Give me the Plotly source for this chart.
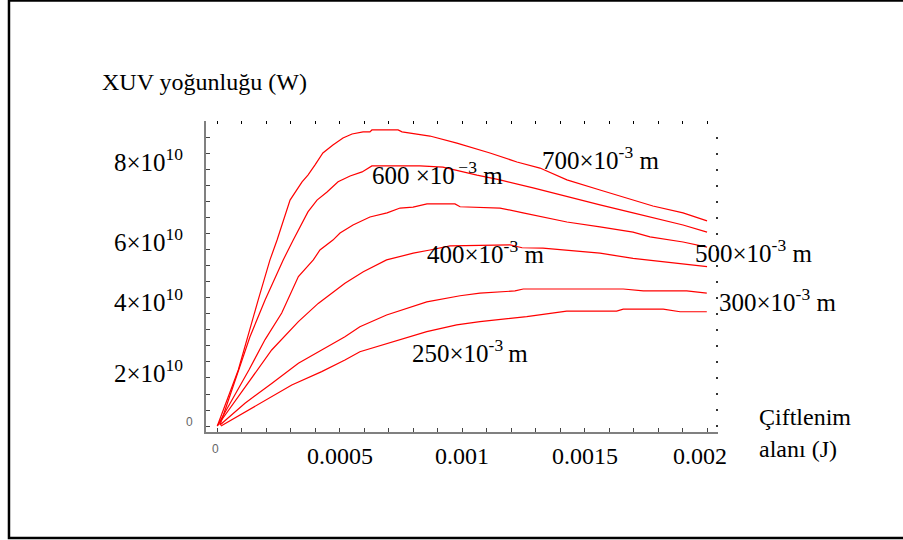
import plotly.graph_objects as go

# Coupling area (J) and XUV intensity (units of 1e10 W) for each wavelength
x_700 = [0, 0.0000857, 0.000167, 0.000215, 0.000244, 0.000297, 0.000346, 0.000370, 0.000399,
         0.000431, 0.000472, 0.000513, 0.000550, 0.000595, 0.000623, 0.000631, 0.000738, 0.000754,
         0.000868, 0.000978, 0.001113, 0.001223, 0.001317, 0.001427, 0.001562, 0.001697, 0.001778,
         0.001901, 0.001999]
y_700 = [0, 1.75, 3.94, 5.19, 5.81, 7.06, 7.63, 7.84, 8.16,
         8.53, 8.78, 9.00, 9.125, 9.19, 9.19, 9.25, 9.25, 9.19,
         9.06, 8.84, 8.53, 8.25, 8.06, 7.69, 7.375, 7.06, 6.875,
         6.66, 6.41]

x_600 = [0.000011, 0.000133, 0.000195, 0.000269, 0.000310, 0.000338, 0.000370, 0.000407, 0.000448,
         0.000493, 0.000542, 0.000591, 0.000631, 0.000827, 0.000921, 0.001060, 0.001154, 0.001289,
         0.001427, 0.001562, 0.001697, 0.001766, 0.001901, 0.001999]
y_600 = [0.03, 2.78, 3.94, 5.19, 5.81, 6.22, 6.69, 7.06, 7.31,
         7.63, 7.81, 7.94, 8.125, 8.125, 8.09, 7.84, 7.69, 7.44,
         7.16, 6.91, 6.66, 6.53, 6.28, 6.06]

x_500 = [0, 0.000129, 0.000195, 0.000263, 0.000331, 0.000392, 0.000419, 0.000472, 0.000501,
         0.000554, 0.000623, 0.000693, 0.000746, 0.000799, 0.000856, 0.000970, 0.000991, 0.001154,
         0.001248, 0.001329, 0.001427, 0.001562, 0.001697, 0.001766, 0.001901, 0.001999]
y_500 = [0, 1.75, 2.70, 3.53, 4.67, 5.19, 5.50, 5.81, 6.03,
         6.28, 6.53, 6.66, 6.81, 6.84, 6.94, 6.94, 6.85, 6.81,
         6.66, 6.53, 6.375, 6.22, 6.06, 5.91, 5.75, 5.59]

x_400 = [0, 0.000146, 0.000222, 0.000331, 0.000412, 0.000521, 0.000596, 0.000691, 0.000800,
         0.000868, 0.000950, 0.001195, 0.001244, 0.001329, 0.001562, 0.001697, 0.001836, 0.001999]
y_400 = [0, 1.54, 2.375, 3.26, 3.83, 4.46, 4.82, 5.19, 5.40,
         5.50, 5.63, 5.66, 5.57, 5.56, 5.40, 5.24, 5.12, 4.98]

x_300 = [0.000011, 0.000113, 0.000222, 0.000331, 0.000426, 0.000521, 0.000582, 0.000691, 0.000855,
         0.000991, 0.001072, 0.001215, 0.001249, 0.001657, 0.001739, 0.001916, 0.001998]
y_300 = [0.03, 0.71, 1.33, 1.96, 2.375, 2.79, 3.10, 3.47, 3.88,
         4.07, 4.15, 4.22, 4.28, 4.28, 4.22, 4.22, 4.15]

x_250 = [0.000015, 0.000195, 0.000304, 0.000426, 0.000521, 0.000582, 0.000691, 0.000855, 0.000977,
         0.001072, 0.001263, 0.001426, 0.001630, 0.001657, 0.001820, 0.001889, 0.001998]
y_250 = [0, 0.81, 1.28, 1.70, 2.06, 2.32, 2.58, 2.95, 3.16,
         3.26, 3.42, 3.59, 3.59, 3.65, 3.65, 3.57, 3.57]

SCALE = 1e10
x_tick_vals = [0.0005, 0.001, 0.0015, 0.002]
x_tick_text = ["0.0005", "0.001", "0.0015", "0.002"]
y_tick_vals = [8, 6, 4, 2]
y_tick_text = ["8×10<sup>10</sup>", "6×10<sup>10</sup>", "4×10<sup>10</sup>", "2×10<sup>10</sup>"]

series = [(x_700, y_700), (x_600, y_600), (x_500, y_500),
          (x_400, y_400), (x_300, y_300), (x_250, y_250)]

SERIF = "Liberation Serif, Times New Roman, serif"
X_RANGE = [-0.0000461, 0.0020437]
Y_RANGE = [-0.1875 * SCALE, 9.53 * SCALE]

fig = go.Figure()
for xs, ys in series:
    fig.add_trace(go.Scatter(x=xs, y=[v * SCALE for v in ys], mode="lines",
                             line=dict(color="#ff0000", width=1.2),
                             showlegend=False, hoverinfo="skip"))
# carrier for the mirrored top/right tick axes
fig.add_trace(go.Scatter(x=[None], y=[None], xaxis="x2", yaxis="y2",
                         showlegend=False, hoverinfo="skip"))

annotations = []
for v, t in zip(x_tick_vals, x_tick_text):
    annotations.append(dict(x=v, y=-0.0772, xref="x", yref="paper", text=t,
                            showarrow=False, xanchor="center", yanchor="middle",
                            xshift=-7 if v == 0.002 else 0,
                            font=dict(family=SERIF, size=24, color="black")))
y_shifts = {8: 10, 6: -6, 4: -2, 2: -9}
for v, t in zip(y_tick_vals, y_tick_text):
    annotations.append(dict(x=-0.041, y=v * SCALE, xref="paper", yref="y", text=t,
                            showarrow=False, xanchor="right", yanchor="middle",
                            yshift=y_shifts[v],
                            font=dict(family=SERIF, size=25, color="black")))
# origin labels
annotations.append(dict(x=0, y=-0.0547, xref="x", yref="paper", text="0", showarrow=False,
                        xanchor="center", yanchor="middle", xshift=-2,
                        font=dict(family="Liberation Sans, Arial", size=12, color="#666666")))
annotations.append(dict(x=-0.0322, y=0, xref="paper", yref="y", text="0", showarrow=False,
                        xanchor="center", yanchor="middle", yshift=4,
                        font=dict(family="Liberation Sans, Arial", size=12, color="#666666")))

# axis titles
annotations.append(dict(x=-0.207, y=1.1254, xref="paper", yref="paper",
                        text="XUV yoğunluğu (W)", showarrow=False,
                        xanchor="left", yanchor="middle",
                        font=dict(family=SERIF, size=24, color="black")))
annotations.append(dict(x=1.0762, y=0.0482, xref="paper", yref="paper",
                        text="Çiftlenim", showarrow=False,
                        xanchor="left", yanchor="middle",
                        font=dict(family=SERIF, size=24, color="black")))
annotations.append(dict(x=1.0762, y=-0.0547, xref="paper", yref="paper",
                        text="alanı (J)", showarrow=False,
                        xanchor="left", yanchor="middle",
                        font=dict(family=SERIF, size=24, color="black")))

# wavelength labels
curve_labels = [
    ("700×10<sup>-3</sup> m", 0.6523, 0.881),
    ("600 ×10<sup>\u2009\u22123</sup> m", 0.3203, 0.8328),
    ("500×10<sup>-3</sup> m", 0.9512, 0.582),
    ("400×10<sup>-3</sup>\u00a0m", 0.4277, 0.5788),
    ("300×10<sup>-3</sup> m", 0.998, 0.4244),
    ("250×10<sup>-3</sup>\u2009m", 0.3984, 0.2605),
]
for t, xp, yp in curve_labels:
    annotations.append(dict(x=xp, y=yp, xref="paper", yref="paper", text=t,
                            showarrow=False, xanchor="left", yanchor="middle",
                            font=dict(family=SERIF, size=25, color="black")))

fig.update_layout(
    width=903, height=540,
    margin=dict(l=206, r=185, t=121, b=108),
    paper_bgcolor="white", plot_bgcolor="white",
    xaxis=dict(range=X_RANGE, showgrid=False, zeroline=False,
               showline=True, linecolor="#808080", linewidth=2,
               ticks="inside", ticklen=4, tickwidth=1, tickcolor="#444444",
               tick0=0, dtick=0.0001, showticklabels=False),
    yaxis=dict(range=Y_RANGE, showgrid=False, zeroline=False,
               showline=True, linecolor="#808080", linewidth=2,
               ticks="inside", ticklen=4, tickwidth=1, tickcolor="#444444",
               tick0=0, dtick=0.5 * SCALE, showticklabels=False),
    xaxis2=dict(range=X_RANGE, overlaying="x", side="top", anchor="y",
                showgrid=False, zeroline=False, showline=False,
                ticks="inside", ticklen=3, tickwidth=1, tickcolor="black",
                tick0=0, dtick=0.0001, showticklabels=False),
    yaxis2=dict(range=Y_RANGE, overlaying="y", side="right", anchor="x",
                showgrid=False, zeroline=False, showline=False,
                ticks="inside", ticklen=2, tickwidth=1.5, tickcolor="#333333",
                tick0=0, dtick=0.5 * SCALE, showticklabels=False),
    annotations=annotations,
    shapes=[dict(type="rect", xref="paper", yref="paper",
                 x0=-0.3848, x1=1.37, y0=-0.3408, y1=1.3875,
                 line=dict(color="black", width=2.5))],
)

fig.write_html("out.html")
